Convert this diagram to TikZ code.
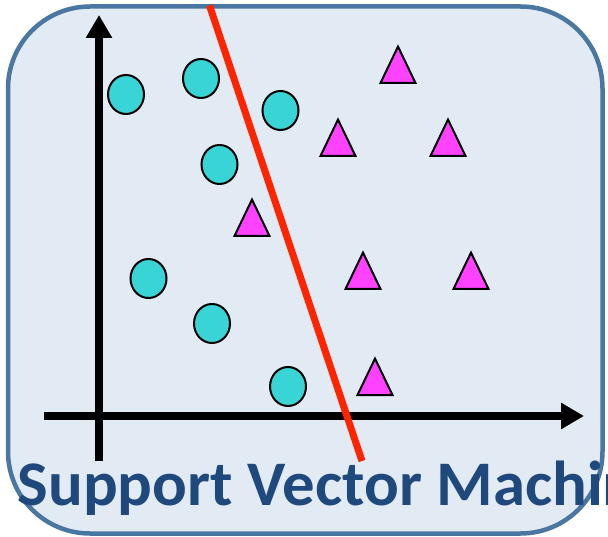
\documentclass[tikz,border=0pt]{standalone}
\usepackage{fontspec}
\newfontfamily\titlefont{Carlito}
\usetikzlibrary{shapes.geometric,arrows.meta}

\definecolor{panelfill}{HTML}{E2EAF4}
\definecolor{panelrim}{HTML}{4A76A2}
\definecolor{classA}{HTML}{39D5D6}
\definecolor{classB}{HTML}{FF42FF}
\definecolor{hyperplane}{HTML}{FF2400}
\definecolor{titleblue}{HTML}{1F497D}

\tikzset{
  panel/.style={draw=panelrim, fill=panelfill, line width=4.5pt, rounded corners=82pt},
  axis/.style={line width=8pt, -{Triangle[length=23pt,width=25pt]}},
  dot/.style={ellipse, draw=black, fill=classA, line width=2pt, inner sep=0pt,
              minimum width=36pt, minimum height=39pt},
  trifill/.style={draw=black, fill=classB, line width=2pt, line join=miter},
  tri/.pic={\path[trifill] (0,2.6) -- (17.5,39) -- (-17.5,39) -- cycle;},
  sepline/.style={draw=hyperplane, line width=7pt},
  title/.style={anchor=base west, inner sep=0pt, text=titleblue, xscale=1.02,
                font=\titlefont\bfseries\fontsize{63.5pt}{63.5pt}\selectfont}
}

\begin{document}
\begin{tikzpicture}[x=1pt, y=-1pt]
  \useasboundingbox (0,0) rectangle (608,537);
  \begin{scope}
    \clip (0,0) rectangle (608,537);

    % rounded panel
    \path[panel] (8,6.5) rectangle (602.5,533.5);

    % axes
    \coordinate (yb) at (99,461);
    \coordinate (yt) at (99,15);
    \coordinate (xl) at (44,416);
    \coordinate (xr) at (584,416);
    \draw[axis] (yb) -- (yt);
    \draw[axis] (xl) -- (xr);

    % class A points
    \node[dot] (c1) at (126,94.5) {};
    \node[dot] (c2) at (201,78.5) {};
    \node[dot] (c3) at (280.5,110.5) {};
    \node[dot] (c4) at (219.5,164.5) {};
    \node[dot] (c5) at (148.5,278.5) {};
    \node[dot] (c6) at (212,323.5) {};
    \node[dot] (c7) at (288,386.5) {};

    % class B points (placed by apex)
    \pic (t1) at (398,44) {tri};
    \pic (t2) at (338,117) {tri};
    \pic (t3) at (448,117) {tri};
    \pic (t4) at (252,197) {tri};
    \pic (t5) at (363,250) {tri};
    \pic (t6) at (471,250) {tri};
    \pic (t7) at (375,356) {tri};

    % separating line
    \coordinate (s1) at (209.5,5.5);
    \coordinate (s2) at (362,461);
    \draw[sepline] (s1) -- (s2);

    % title, running past the right edge
    \node[title] (ttl) at (17.5,505) {Support Vector Machine};
  \end{scope}
\end{tikzpicture}
\end{document}
